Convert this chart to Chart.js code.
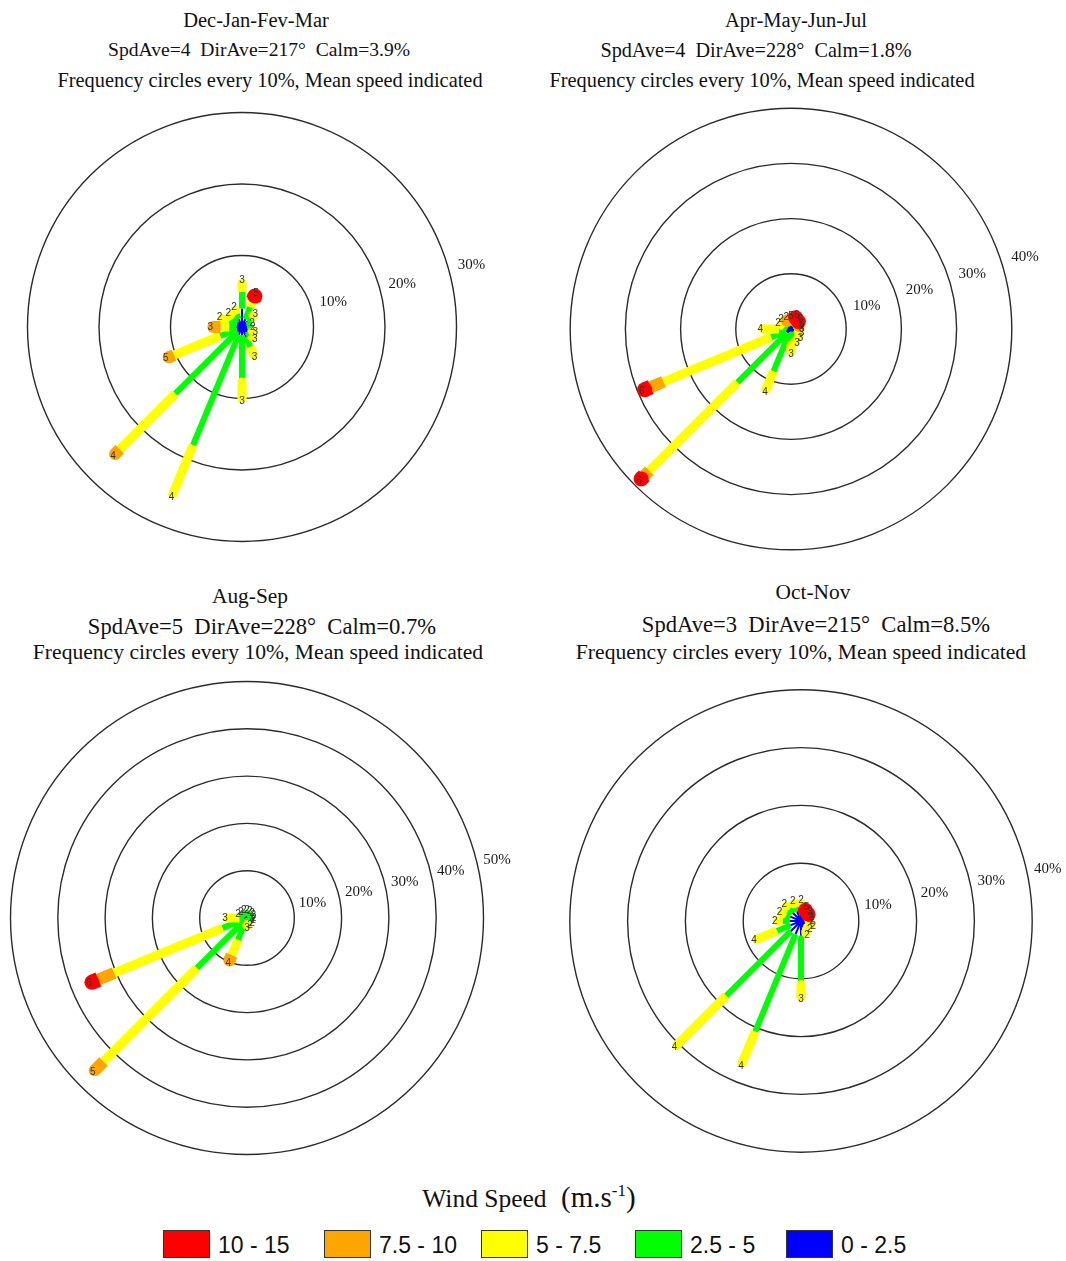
<!DOCTYPE html>
<html>
<head>
<meta charset="utf-8">
<title>Seasonal wind roses</title>
<script src="https://cdn.jsdelivr.net/npm/chart.js@4.4.1/dist/chart.umd.min.js"></script>
<style>
  html, body { margin: 0; padding: 0; background: #ffffff; }
  #page { position: relative; width: 1066px; height: 1261px; overflow: hidden; background: #ffffff; }
  .t { position: absolute; transform: translate(-50%, -50%); font-family: "Liberation Serif", "Times New Roman", serif;
       color: #111; white-space: pre; line-height: 1; }
  canvas { position: absolute; }
  .lg-box { position: absolute; box-sizing: border-box; border: 1.5px solid #333; }
  .lg-txt { position: absolute; transform: translateY(-50%); font-family: "Liberation Sans", Arial, sans-serif;
            font-size: 23px; color: #111; white-space: pre; line-height: 1; }
</style>
</head>
<body>
<div id="page"></div>
<script>
// ---- wind direction sectors (degrees clockwise from north) ----
const DIRECTIONS = [0, 22.5, 45, 67.5, 90, 112.5, 135, 157.5, 180, 202.5, 225, 247.5, 270, 292.5, 315, 337.5];

// ---- speed classes (m/s), slowest first ----
const SPEED_BINS = ['0 - 2.5', '2.5 - 5', '5 - 7.5', '7.5 - 10', '10 - 15'];
const BIN_COLORS = ['#0000ff', '#00ff00', '#ffff00', '#ffa500', '#ff0000'];
const BIN_WIDTHS = [2, 6, 9, 12, 15];

// ---- Dec-Jan-Fev-Mar : frequency (%) per sector and speed class ----
const djfm_0_25  = [2.6, 1.2, 1.2, 0.8, 0.8, 0.9, 1.0, 1.5, 1.5, 1.2, 1.0, 0.8, 0.8, 0.8, 1.0, 1.2];
const djfm_25_5  = [2.3, 1.8, 0.6, 0.3, 0.3, 0.4, 0.6, 1.5, 6.2, 16.7, 12.2, 2.5, 1.0, 1.2, 0.8, 0.8];
const djfm_5_75  = [1.2, 0.8, 0.4, 0.0, 0.0, 0.3, 0.5, 1.2, 2.2, 7.4, 11.0, 7.0, 1.2, 1.0, 0.5, 0.5];
const djfm_75_10 = [0, 0.3, 0, 0, 0, 0, 0, 0, 0, 0, 0.9, 0.8, 1.0, 0, 0, 0];
const djfm_10_15 = [0, 0.6, 0, 0, 0, 0, 0, 0, 0, 0, 0, 0, 0, 0, 0, 0];
const djfm_mean  = ['3', '5', '3', '2', '2', '3', '3', '3', '3', '4', '4', '5', '3', '2', '2', '2'];
const djfm_rings = [10, 20, 30];
const djfm_ringLabels = ['10%', '20%', '30%'];

// ---- Apr-May-Jun-Jul ----
const amjj_0_25  = [0.6, 0.5, 0.5, 0.5, 0.6, 0.6, 0.6, 0.7, 1.0, 1.0, 1.0, 1.0, 1.0, 0.6, 0.6, 0.5];
const amjj_25_5  = [0.5, 0.5, 0.4, 0.4, 0.5, 0.6, 0.8, 1.0, 1.9, 7.3, 12.7, 2.9, 1.2, 0.8, 0.9, 0.6];
const amjj_5_75  = [0.4, 0.4, 0.4, 0.3, 0.3, 0.3, 0.5, 0.6, 1.1, 3.5, 22.6, 21.1, 2.8, 0.6, 0.5, 0.4];
const amjj_75_10 = [0.3, 0.4, 0.3, 0.3, 0, 0, 0, 0, 0, 0, 1.3, 2.5, 0, 0, 0, 0.2];
const amjj_10_15 = [0, 0.4, 0.3, 0, 0, 0, 0, 0, 0, 0, 0.8, 1.2, 0, 0, 0, 0];
const amjj_mean  = ['5', '6', '6', '5', '3', '3', '3', '3', '3', '4', '6', '6', '4', '2', '2', '2'];
const amjj_rings = [10, 20, 30, 40];
const amjj_ringLabels = ['10%', '20%', '30%', '40%'];

// ---- Aug-Sep ----
const as_0_25  = [0.5, 0.4, 0.4, 0.4, 0.4, 0.4, 0.4, 0.5, 0.6, 0.6, 0.6, 0.6, 0.6, 0.6, 0.5, 0.5];
const as_25_5  = [0.6, 0.5, 0.5, 0.4, 0.4, 0.4, 0.5, 0.6, 0.8, 4.4, 14.4, 5.0, 1.0, 0.8, 0.7, 0.6];
const as_5_75  = [0, 0, 0, 0, 0, 0, 0, 0, 0.2, 3.5, 27.9, 24.8, 2.4, 0, 0, 0];
const as_75_10 = [0, 0, 0, 0, 0, 0, 0, 0, 0, 1.2, 2.6, 3.6, 0, 0, 0, 0];
const as_10_15 = [0, 0, 0, 0, 0, 0, 0, 0, 0, 0, 0, 1.5, 0, 0, 0, 0];
const as_mean  = ['2', '2', '2', '2', '2', '2', '2', '2', '3', '4', '5', '6', '3', '2', '2', '2'];
const as_rings = [10, 20, 30, 40, 50];
const as_ringLabels = ['10%', '20%', '30%', '40%', '50%'];

// ---- Oct-Nov ----
const on_0_25  = [1.8, 1.0, 1.0, 0.9, 1.0, 1.2, 1.2, 1.5, 3.0, 2.5, 2.5, 2.0, 2.0, 2.0, 2.0, 1.8];
const on_25_5  = [0.8, 0.3, 0.3, 0.3, 0.3, 0.4, 0.3, 0.5, 8.0, 18.2, 15.8, 2.5, 1.2, 1.0, 1.1, 1.0];
const on_5_75  = [0.4, 0.2, 0.2, 0.1, 0.1, 0.2, 0.1, 0.2, 2.0, 5.9, 12.1, 3.8, 0.8, 0.5, 0.5, 0.4];
const on_75_10 = [0, 0.2, 0.1, 0, 0, 0, 0, 0, 0, 0, 0, 0, 0, 0, 0, 0];
const on_10_15 = [0, 0.3, 0.1, 0, 0, 0, 0, 0, 0, 0, 0, 0, 0, 0, 0, 0];
const on_mean  = ['2', '5', '3', '2', '2', '2', '2', '2', '3', '4', '4', '4', '2', '2', '2', '2'];
const on_rings = [10, 20, 30, 40];
const on_ringLabels = ['10%', '20%', '30%', '40%'];

// ---- panel headings ----
const PANEL_TITLES = ['Dec-Jan-Fev-Mar', 'Apr-May-Jun-Jul', 'Aug-Sep', 'Oct-Nov'];
const PANEL_STATS = [
  'SpdAve=4  DirAve=217°  Calm=3.9%',
  'SpdAve=4  DirAve=228°  Calm=1.8%',
  'SpdAve=5  DirAve=228°  Calm=0.7%',
  'SpdAve=3  DirAve=215°  Calm=8.5%'
];
const PANEL_NOTE = 'Frequency circles every 10%, Mean speed indicated';

const PANELS = [
  { bins: [djfm_0_25, djfm_25_5, djfm_5_75, djfm_75_10, djfm_10_15], mean: djfm_mean, rings: djfm_rings, ringLabels: djfm_ringLabels },
  { bins: [amjj_0_25, amjj_25_5, amjj_5_75, amjj_75_10, amjj_10_15], mean: amjj_mean, rings: amjj_rings, ringLabels: amjj_ringLabels },
  { bins: [as_0_25, as_25_5, as_5_75, as_75_10, as_10_15], mean: as_mean, rings: as_rings, ringLabels: as_ringLabels },
  { bins: [on_0_25, on_25_5, on_5_75, on_75_10, on_10_15], mean: on_mean, rings: on_rings, ringLabels: on_ringLabels }
];

// ---- page layout: canvas box, rose centre, pixels per percent, heading placement ----
const LAYOUT = [
  { left: 0,   top: 95,  w: 533, h: 480, cx: 242, cy: 327, k: 7.15, labAng: 15, labGap: 23,
    heads: [[256, 20, 20.5], [259, 50, 19.6], [270, 80, 20.4]] },
  { left: 533, top: 95,  w: 533, h: 480, cx: 791, cy: 329, k: 5.52, labAng: 17, labGap: 24,
    heads: [[796, 20, 20.5], [756, 50, 20.2], [762, 80, 20.4]] },
  { left: 0,   top: 665, w: 533, h: 510, cx: 247, cy: 918, k: 4.73, labAng: 13, labGap: 20,
    heads: [[250, 597, 21.4], [262, 627, 22.6], [258, 653, 21.6]] },
  { left: 533, top: 665, w: 533, h: 510, cx: 801, cy: 921, k: 5.78, labAng: 12, labGap: 21,
    heads: [[813, 593, 21.4], [816, 625, 22.6], [801, 653, 21.6]] }
];

const page = document.getElementById('page');

function addText(txt, x, y, size) {
  const d = document.createElement('div');
  d.className = 't';
  d.textContent = txt;
  d.style.left = x + 'px';
  d.style.top = y + 'px';
  d.style.fontSize = size + 'px';
  page.appendChild(d);
  return d;
}

// rings + percentage labels, drawn under the paddles
const ringPlugin = {
  id: 'rings',
  beforeDatasetsDraw(chart, args, opts) {
    const { ctx, scales: { x, y } } = chart;
    const ox = x.getPixelForValue(0), oy = y.getPixelForValue(0);
    const ppu = x.getPixelForValue(1) - ox;
    ctx.save();
    ctx.strokeStyle = '#2b2b2b';
    ctx.lineWidth = 1.4;
    opts.rings.forEach((v, i) => {
      const r = v * ppu;
      ctx.beginPath();
      ctx.arc(ox, oy, r, 0, Math.PI * 2);
      ctx.stroke();
      const a = opts.labAng * Math.PI / 180;
      const rr = r + opts.labGap;
      ctx.fillStyle = '#1a1a1a';
      ctx.font = '15px "Liberation Serif", "Times New Roman", serif';
      ctx.textAlign = 'center';
      ctx.textBaseline = 'middle';
      ctx.fillText(opts.ringLabels[i], ox + rr * Math.cos(a), oy - rr * Math.sin(a));
    });
    ctx.restore();
  }
};

// mean-speed figures at the end of every paddle
const meanPlugin = {
  id: 'meanSpeed',
  afterDatasetsDraw(chart, args, opts) {
    const { ctx, scales: { x, y } } = chart;
    const ox = x.getPixelForValue(0), oy = y.getPixelForValue(0);
    const ppu = x.getPixelForValue(1) - ox;
    ctx.save();
    ctx.fillStyle = '#303030';
    ctx.font = '10px "Liberation Sans", Arial, sans-serif';
    ctx.textAlign = 'center';
    ctx.textBaseline = 'middle';
    DIRECTIONS.forEach((d, i) => {
      let total = 0;
      opts.bins.forEach(b => { total += b[i]; });
      if (total <= 0) return;
      const t = d * Math.PI / 180;
      const r = total * ppu + 3;
      ctx.fillText(opts.mean[i], ox + r * Math.sin(t), oy - r * Math.cos(t));
    });
    ctx.restore();
  }
};

function buildDatasets(bins) {
  return bins.map((bin, c) => {
    const pts = [];
    DIRECTIONS.forEach((d, i) => {
      if (bin[i] <= 0) return;
      let start = 0;
      for (let j = 0; j < c; j++) start += bins[j][i];
      const end = start + bin[i];
      let last = true;
      for (let j = c + 1; j < bins.length; j++) if (bins[j][i] > 0) last = false;
      const t = d * Math.PI / 180;
      pts.push({ x: start * Math.sin(t), y: start * Math.cos(t) });
      pts.push({ x: end * Math.sin(t), y: end * Math.cos(t), tip: last });
      pts.push({ x: null, y: null });
    });
    const w = BIN_WIDTHS[c];
    return {
      label: SPEED_BINS[c],
      data: pts,
      showLine: true,
      spanGaps: false,
      borderColor: BIN_COLORS[c],
      backgroundColor: BIN_COLORS[c],
      borderWidth: w,
      borderCapStyle: 'butt',
      borderJoinStyle: 'round',
      pointBackgroundColor: BIN_COLORS[c],
      pointBorderWidth: 0,
      pointRadius: ctx => (ctx.raw && ctx.raw.tip && c > 0 ? w / 2 : 0),
      pointHoverRadius: 0,
      order: bins.length - c
    };
  });
}

PANELS.forEach((p, n) => {
  const L = LAYOUT[n];
  addText(PANEL_TITLES[n], L.heads[0][0], L.heads[0][1], L.heads[0][2]);
  addText(PANEL_STATS[n], L.heads[1][0], L.heads[1][1], L.heads[1][2]);
  addText(PANEL_NOTE, L.heads[2][0], L.heads[2][1], L.heads[2][2]);

  const cv = document.createElement('canvas');
  cv.width = L.w; cv.height = L.h;
  cv.style.left = L.left + 'px'; cv.style.top = L.top + 'px';
  cv.style.width = L.w + 'px'; cv.style.height = L.h + 'px';
  page.appendChild(cv);

  new Chart(cv, {
    type: 'scatter',
    data: { datasets: buildDatasets(p.bins) },
    options: {
      responsive: false,
      animation: false,
      events: [],
      layout: { padding: 0 },
      scales: {
        x: { type: 'linear', display: false, min: -(L.cx - L.left) / L.k, max: (L.left + L.w - L.cx) / L.k },
        y: { type: 'linear', display: false, min: -(L.top + L.h - L.cy) / L.k, max: (L.cy - L.top) / L.k }
      },
      plugins: {
        legend: { display: false },
        tooltip: { enabled: false },
        rings: { rings: p.rings, ringLabels: p.ringLabels, labAng: L.labAng, labGap: L.labGap },
        meanSpeed: { bins: p.bins, mean: p.mean }
      }
    },
    plugins: [ringPlugin, meanPlugin]
  });
});

// ---- shared speed legend ----
const LEGEND_X = [163, 324, 481, 635, 786];
const legTitle = document.createElement('div');
legTitle.className = 't';
legTitle.style.left = '529px';
legTitle.style.top = '1197px';
legTitle.innerHTML = '<span style="font-size:25.5px">Wind Speed</span><span style="font-size:29px">  (m.s<sup style="font-size:17px;vertical-align:11px;line-height:0">-1</sup>)</span>';
page.appendChild(legTitle);

const legendOrder = [4, 3, 2, 1, 0];
legendOrder.forEach((c, i) => {
  const b = document.createElement('div');
  b.className = 'lg-box';
  b.style.left = LEGEND_X[i] + 'px';
  b.style.top = '1230px';
  b.style.width = '47px';
  b.style.height = '28px';
  b.style.background = BIN_COLORS[c];
  page.appendChild(b);
  const t = document.createElement('div');
  t.className = 'lg-txt';
  t.textContent = SPEED_BINS[c];
  t.style.left = (LEGEND_X[i] + 55) + 'px';
  t.style.top = '1245px';
  page.appendChild(t);
});
</script>
</body>
</html>
